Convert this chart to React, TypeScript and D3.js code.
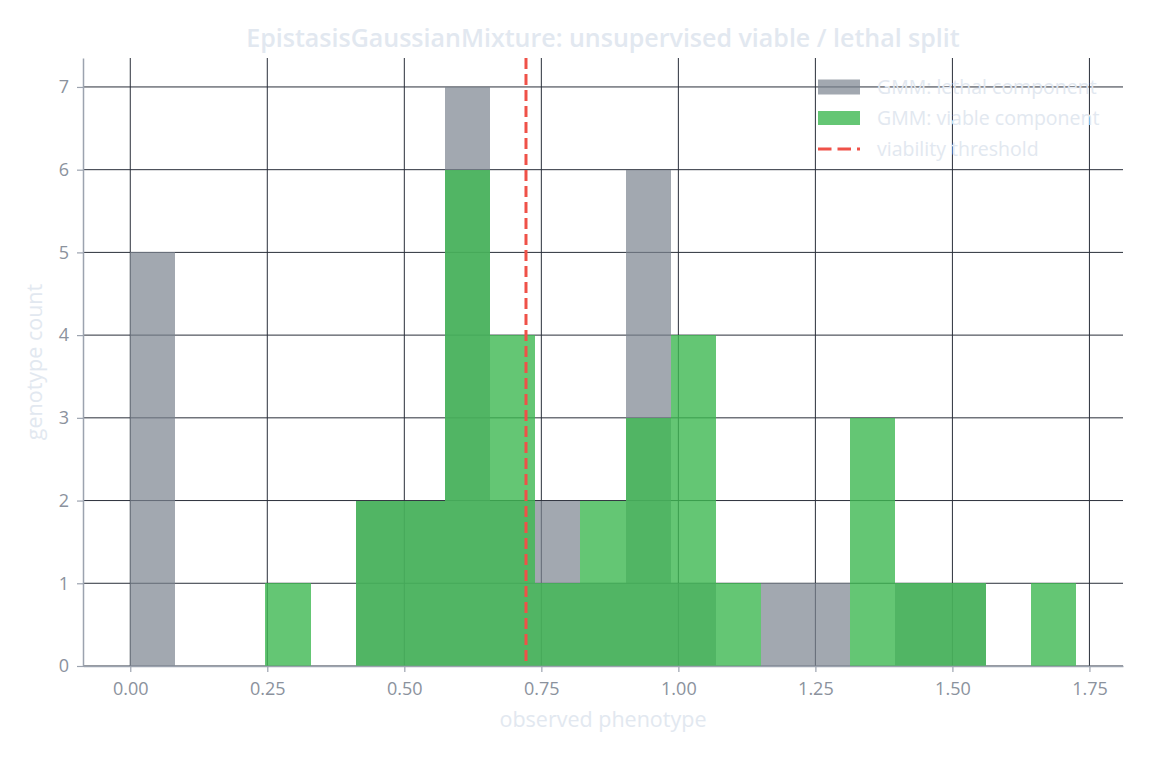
import React, { useEffect, useRef } from 'react';
import * as d3 from 'd3';

// shared histogram bin edges (21 bins)
const binEdges = [
  0, 0.082, 0.164, 0.246, 0.329, 0.411, 0.493, 0.575, 0.657, 0.739, 0.821,
  0.904, 0.986, 1.068, 1.15, 1.232, 1.314, 1.396, 1.479, 1.561, 1.643, 1.725,
];

// genotype counts per bin for each mixture component
const lethalCounts = [5, 0, 0, 0, 0, 2, 2, 7, 2, 2, 1, 6, 1, 0, 1, 1, 0, 1, 1, 0, 0];
const viableCounts = [0, 0, 0, 1, 0, 2, 2, 6, 4, 1, 2, 3, 4, 1, 0, 0, 3, 1, 1, 0, 1];

const viabilityThreshold = 0.722;

const xTicks = [0, 0.25, 0.5, 0.75, 1.0, 1.25, 1.5, 1.75];
const yTicks = [0, 1, 2, 3, 4, 5, 6, 7];

const legendLabels = ['GMM: lethal component', 'GMM: viable component', 'viability threshold'];

const W = 1149;
const H = 759;
const FONT = "'Open Sans', 'Noto Sans', sans-serif";

const HistogramChart = () => {
  const svgRef = useRef<SVGSVGElement>(null);

  useEffect(() => {
    const svg = d3.select(svgRef.current);
    svg.selectAll('*').remove();

    const left = 83, right = 1123, top = 58, bottom = 666;

    // 5% padding around the data range, like matplotlib's default margins
    const lo = binEdges[0];
    const hi = binEdges[binEdges.length - 1];
    const pad = (hi - lo) * 0.05;
    const x = d3.scaleLinear().domain([lo - pad, hi + pad]).range([left, right]);
    const yMax = d3.max([...lethalCounts, ...viableCounts]) as number;
    const y = d3.scaleLinear().domain([0, yMax * 1.05]).range([bottom, top]);

    const gridColor = '#2a2f3a';
    const axisColor = '#9ca3af';
    const tickText = '#8b929d';
    const lightText = '#e2e8f0';

    // grid behind everything
    const grid = svg.append('g');
    grid.selectAll('line.v')
      .data(xTicks)
      .join('line')
      .attr('class', 'v')
      .attr('x1', d => x(d))
      .attr('x2', d => x(d))
      .attr('y1', top)
      .attr('y2', bottom)
      .attr('stroke', gridColor)
      .attr('stroke-width', 1);
    grid.selectAll('line.h')
      .data(yTicks)
      .join('line')
      .attr('class', 'h')
      .attr('x1', left)
      .attr('x2', right)
      .attr('y1', d => y(d))
      .attr('y2', d => y(d))
      .attr('stroke', gridColor)
      .attr('stroke-width', 1);

    const drawBars = (counts: number[], fill: string, opacity: number) => {
      const bins = counts.map((c, i) => ({ x0: binEdges[i], x1: binEdges[i + 1], c }));
      svg.append('g')
        .attr('shape-rendering', 'crispEdges')
        .selectAll('rect')
        .data(bins.filter(b => b.c > 0))
        .join('rect')
        .attr('x', d => Math.round(x(d.x0)))
        .attr('width', d => Math.round(x(d.x1)) - Math.round(x(d.x0)))
        .attr('y', d => y(d.c))
        .attr('height', d => y(0) - y(d.c))
        .attr('fill', fill)
        .attr('fill-opacity', opacity);
    };

    drawBars(lethalCounts, 'rgb(122,131,142)', 0.7);
    drawBars(viableCounts, 'rgb(61,184,81)', 0.8);

    // threshold line
    svg.append('line')
      .attr('x1', x(viabilityThreshold))
      .attr('x2', x(viabilityThreshold))
      .attr('y1', top)
      .attr('y2', bottom)
      .attr('stroke', '#ef5148')
      .attr('stroke-width', 3)
      .attr('stroke-dasharray', '11 5');

    // axes
    const xAxis = svg.append('g')
      .attr('transform', `translate(0, ${bottom})`)
      .call(
        d3.axisBottom(x)
          .tickValues(xTicks)
          .tickFormat(d3.format('.2f'))
          .tickSize(6)
          .tickPadding(10)
          .tickSizeOuter(0)
      );

    const yAxis = svg.append('g')
      .attr('transform', `translate(${left}, 0)`)
      .call(
        d3.axisLeft(y)
          .tickValues(yTicks)
          .tickFormat(d3.format('d'))
          .tickSize(6)
          .tickPadding(8)
          .tickSizeOuter(0)
      );

    [xAxis, yAxis].forEach(g => {
      g.attr('font-family', FONT).attr('font-size', 18);
      g.select('.domain').attr('stroke', axisColor).attr('stroke-width', 1.5);
      g.selectAll('.tick line').attr('stroke', axisColor).attr('stroke-width', 1.2);
      g.selectAll('.tick text').attr('fill', tickText);
    });

    // title and axis labels
    svg.append('text')
      .attr('x', (left + right) / 2)
      .attr('y', 47)
      .attr('text-anchor', 'middle')
      .attr('font-family', FONT)
      .attr('font-size', 25)
      .attr('font-weight', 600)
      .attr('fill', lightText)
      .text('EpistasisGaussianMixture: unsupervised viable / lethal split');

    svg.append('text')
      .attr('x', (left + right) / 2)
      .attr('y', 727)
      .attr('text-anchor', 'middle')
      .attr('font-family', FONT)
      .attr('font-size', 21.5)
      .attr('fill', lightText)
      .text('observed phenotype');

    svg.append('text')
      .attr('transform', `translate(42, ${(top + bottom) / 2}) rotate(-90)`)
      .attr('text-anchor', 'middle')
      .attr('font-family', FONT)
      .attr('font-size', 21.5)
      .attr('fill', lightText)
      .text('genotype count');

    // legend
    const legend = svg.append('g').attr('transform', 'translate(818, 87)');
    const rowGap = 31;
    legend.append('rect')
      .attr('x', 0).attr('y', -7.5).attr('width', 42).attr('height', 15)
      .attr('fill', 'rgb(122,131,142)').attr('fill-opacity', 0.7);
    legend.append('rect')
      .attr('x', 0).attr('y', rowGap - 7).attr('width', 42).attr('height', 14)
      .attr('fill', 'rgb(61,184,81)').attr('fill-opacity', 0.8);
    legend.append('line')
      .attr('x1', 0).attr('x2', 42)
      .attr('y1', rowGap * 2).attr('y2', rowGap * 2)
      .attr('stroke', '#ef5148').attr('stroke-width', 3)
      .attr('stroke-dasharray', '13.5 6');
    legend.selectAll('text')
      .data(legendLabels)
      .join('text')
      .attr('x', 59)
      .attr('y', (_, i) => i * rowGap)
      .attr('dy', '0.36em')
      .attr('font-family', FONT)
      .attr('font-size', 19.5)
      .attr('fill', lightText)
      .text(d => d);
  }, []);

  return (
    <svg
      ref={svgRef}
      width={W}
      height={H}
      style={{ position: 'absolute', left: 0, top: 0, background: '#ffffff', display: 'block' }}
    />
  );
};

export default function App() {
  return <HistogramChart />;
}
